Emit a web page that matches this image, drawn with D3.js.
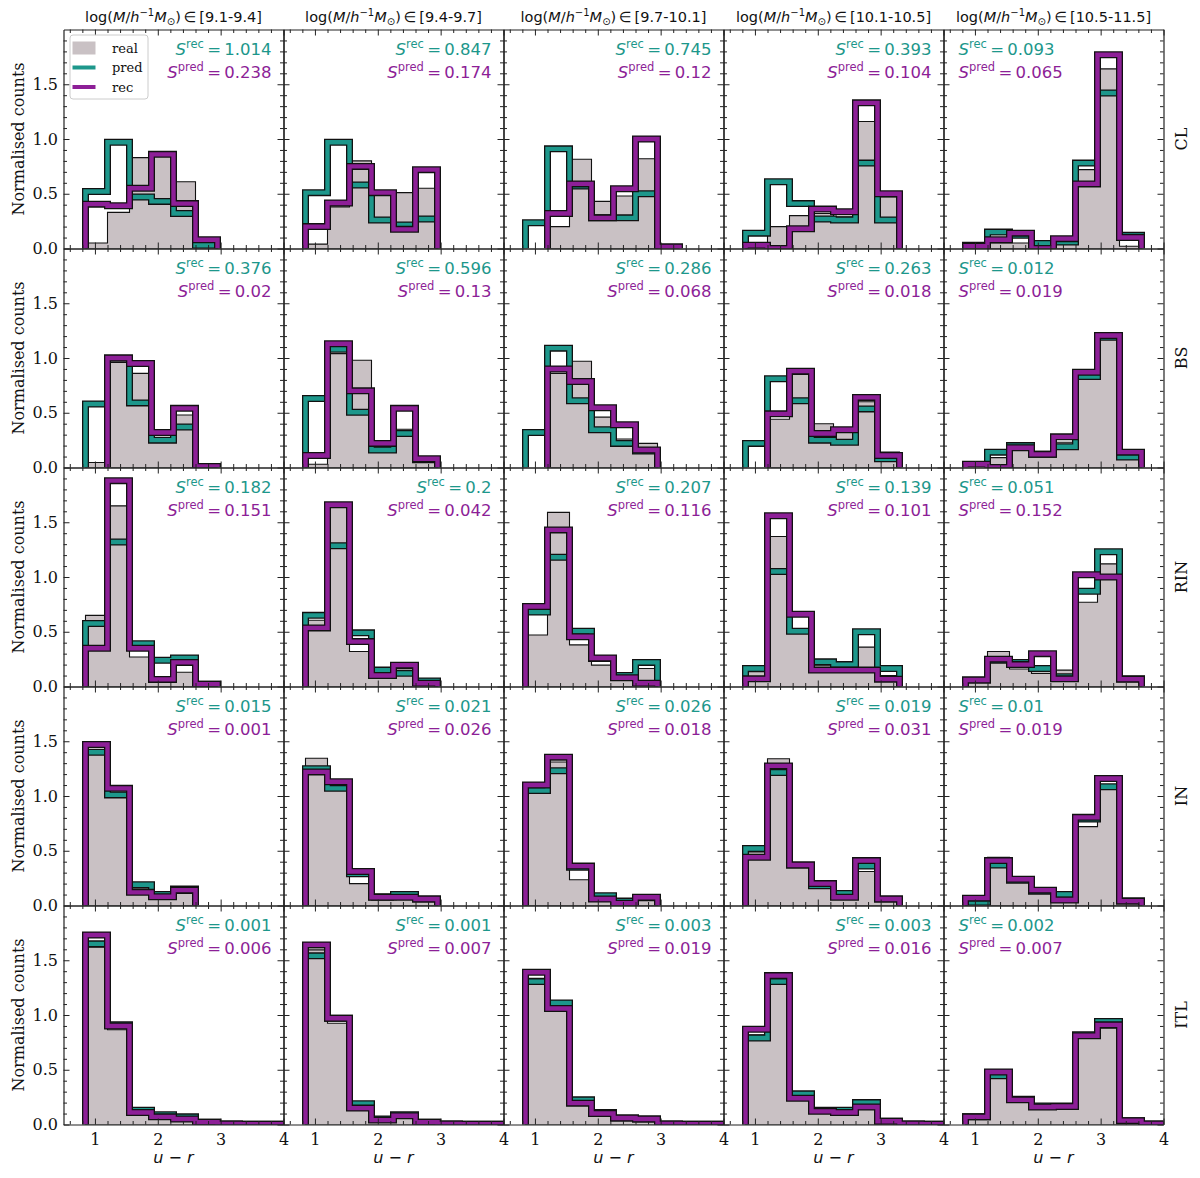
<!DOCTYPE html>
<html>
<head>
<meta charset="utf-8">
<script src="https://cdn.jsdelivr.net/npm/d3@7"></script>
<style>
  body { margin: 0; background: #fff; }
  svg { display: block; }
</style>
</head>
<body>
<div id="vis"></div>
<script>
// bin edges of u-r histograms
const EDGES = [0.85, 1.2, 1.55, 1.9, 2.25, 2.6, 2.95, 3.3, 3.65, 4.0];

const MASS_BINS = ["9.1-9.4", "9.4-9.7", "9.7-10.1", "10.1-10.5", "10.5-11.5"];
const ENVS = ["CL", "BS", "RIN", "IN", "ITL"];
const X_TICKS = [1, 2, 3, 4];
const Y_TICKS = [0, 0.5, 1.0, 1.5];

// S values, one row per environment, one entry per mass bin
const S_REC = [
  ["1.014", "0.847", "0.745", "0.393", "0.093"],
  ["0.376", "0.596", "0.286", "0.263", "0.012"],
  ["0.182", "0.2", "0.207", "0.139", "0.051"],
  ["0.015", "0.021", "0.026", "0.019", "0.01"],
  ["0.001", "0.001", "0.003", "0.003", "0.002"]
];
const S_PRED = [
  ["0.238", "0.174", "0.12", "0.104", "0.065"],
  ["0.02", "0.13", "0.068", "0.018", "0.019"],
  ["0.151", "0.042", "0.116", "0.101", "0.152"],
  ["0.001", "0.026", "0.018", "0.031", "0.019"],
  ["0.006", "0.007", "0.019", "0.016", "0.007"]
];

// normalised counts, one row per mass bin
const REAL_CL = [
  [0.05, 0.33, 0.83, 0.85, 0.61, 0.07, 0, 0, 0],
  [0.04, 0.38, 0.80, 0.49, 0.51, 0.55, 0, 0, 0],
  [0, 0.20, 0.815, 0.43, 0.48, 0.82, 0, 0, 0],
  [0.02, 0.20, 0.30, 0.32, 0.29, 1.16, 0.47, 0, 0],
  [0, 0.05, 0.05, 0.02, 0.05, 0.72, 1.64, 0.02, 0]
];
const PRED_CL = [
  [0.52, 0.97, 0.47, 0.43, 0.32, 0.03, 0, 0, 0],
  [0.51, 0.97, 0.58, 0.26, 0.215, 0.27, 0, 0, 0],
  [0.235, 0.91, 0.57, 0.28, 0.28, 0.50, 0, 0, 0],
  [0.14, 0.61, 0.41, 0.27, 0.26, 0.78, 0.26, 0, 0],
  [0.03, 0.15, 0.12, 0.045, 0.06, 0.78, 1.42, 0.12, 0]
];
const REC_CL = [
  [0.405, 0.39, 0.55, 0.86, 0.41, 0.08, 0, 0, 0],
  [0.20, 0.415, 0.75, 0.51, 0.175, 0.72, 0, 0, 0],
  [0, 0.32, 0.59, 0.28, 0.545, 1.00, 0.015, 0, 0],
  [0.03, 0, 0.18, 0.36, 0.335, 1.33, 0.50, 0, 0],
  [0.02, 0.08, 0.14, 0, 0.09, 0.59, 1.77, 0.10, 0]
];

const REAL_BS = [
  [0.045, 0.96, 0.86, 0.27, 0.48, 0, 0, 0, 0],
  [0.03, 1.04, 0.98, 0.19, 0.35, 0.08, 0, 0, 0],
  [0, 0.86, 0.97, 0.46, 0.26, 0.22, 0, 0, 0],
  [0, 0.44, 0.85, 0.40, 0.34, 0.60, 0.14, 0, 0],
  [0, 0.09, 0.17, 0.12, 0.23, 0.825, 1.175, 0.12, 0]
];
const PRED_BS = [
  [0.58, 1.00, 0.59, 0.25, 0.37, 0.01, 0, 0, 0],
  [0.63, 1.08, 0.505, 0.16, 0.31, 0.07, 0, 0, 0],
  [0.32, 1.09, 0.61, 0.345, 0.22, 0.15, 0, 0, 0],
  [0.22, 0.81, 0.61, 0.25, 0.23, 0.535, 0.08, 0, 0],
  [0, 0.14, 0.20, 0.12, 0.19, 0.83, 1.19, 0.095, 0]
];
const REC_BS = [
  [0, 1.00, 0.95, 0.32, 0.54, 0.01, 0, 0, 0],
  [0.11, 1.13, 0.70, 0.22, 0.54, 0.08, 0, 0, 0],
  [0, 0.90, 0.785, 0.545, 0.39, 0.16, 0, 0, 0],
  [0, 0.49, 0.88, 0.31, 0.345, 0.64, 0.11, 0, 0],
  [0.03, 0, 0.18, 0.12, 0.28, 0.87, 1.205, 0.14, 0]
];

const REAL_RIN = [
  [0.65, 1.65, 0.27, 0.06, 0.13, 0.02, 0, 0, 0],
  [0.605, 1.65, 0.32, 0.10, 0.165, 0.02, 0, 0, 0],
  [0.47, 1.59, 0.38, 0.195, 0.06, 0.165, 0, 0, 0],
  [0.135, 1.37, 0.50, 0.195, 0.17, 0.36, 0.10, 0, 0],
  [0.05, 0.32, 0.16, 0.12, 0.15, 0.77, 1.12, 0.06, 0]
];
const PRED_RIN = [
  [0.575, 1.32, 0.39, 0.24, 0.26, 0.02, 0, 0, 0],
  [0.65, 1.285, 0.49, 0.15, 0.12, 0.05, 0, 0, 0],
  [0.68, 1.18, 0.505, 0.255, 0.10, 0.22, 0, 0, 0],
  [0.165, 1.05, 0.505, 0.225, 0.20, 0.50, 0.165, 0, 0],
  [0.06, 0.24, 0.22, 0.165, 0.09, 0.87, 1.23, 0.07, 0]
];
const REC_RIN = [
  [0.35, 1.88, 0.35, 0.065, 0.22, 0.02, 0, 0, 0],
  [0.535, 1.66, 0.41, 0.10, 0.195, 0.03, 0, 0, 0],
  [0.73, 1.43, 0.455, 0.26, 0.08, 0.03, 0, 0, 0],
  [0.07, 1.56, 0.66, 0.15, 0.15, 0.15, 0.067, 0, 0],
  [0.06, 0.25, 0.20, 0.30, 0.07, 1.02, 1.00, 0.067, 0]
];

const REAL_IN = [
  [1.42, 1.03, 0.16, 0.07, 0.11, 0, 0, 0, 0],
  [1.345, 1.09, 0.20, 0.05, 0.06, 0.05, 0, 0, 0],
  [1.03, 1.31, 0.235, 0.05, 0.03, 0.07, 0, 0, 0],
  [0.49, 1.34, 0.36, 0.16, 0.09, 0.31, 0.05, 0, 0],
  [0.03, 0.44, 0.22, 0.12, 0.07, 0.72, 1.09, 0.03, 0]
];
const PRED_IN = [
  [1.40, 1.01, 0.19, 0.10, 0.15, 0, 0, 0, 0],
  [1.25, 1.07, 0.29, 0.08, 0.10, 0.06, 0, 0, 0],
  [1.05, 1.23, 0.35, 0.09, 0.04, 0.07, 0, 0, 0],
  [0.52, 1.215, 0.37, 0.18, 0.11, 0.36, 0.06, 0, 0],
  [0.03, 0.37, 0.23, 0.13, 0.10, 0.79, 1.085, 0.04, 0]
];
const REC_IN = [
  [1.47, 1.07, 0.12, 0.08, 0.14, 0, 0, 0, 0],
  [1.22, 1.13, 0.31, 0.076, 0.076, 0.06, 0, 0, 0],
  [1.10, 1.355, 0.36, 0.06, 0.02, 0.076, 0, 0, 0],
  [0.44, 1.275, 0.37, 0.20, 0.076, 0.41, 0.06, 0, 0],
  [0.067, 0.41, 0.24, 0.14, 0.05, 0.805, 1.16, 0.04, 0]
];

const REAL_ITL = [
  [1.62, 0.865, 0.12, 0.08, 0.06, 0.02, 0.005, 0.003, 0.002],
  [1.595, 0.925, 0.16, 0.05, 0.06, 0.02, 0.005, 0.003, 0.002],
  [1.335, 1.12, 0.21, 0.10, 0.06, 0.05, 0.005, 0.003, 0.002],
  [0.82, 1.29, 0.26, 0.12, 0.12, 0.17, 0.03, 0.005, 0.003],
  [0.06, 0.45, 0.22, 0.17, 0.17, 0.79, 0.88, 0.03, 0.005]
];
const PRED_ITL = [
  [1.65, 0.91, 0.13, 0.09, 0.07, 0.02, 0.005, 0.003, 0.002],
  [1.54, 0.97, 0.19, 0.05, 0.09, 0.02, 0.005, 0.003, 0.002],
  [1.305, 1.11, 0.225, 0.11, 0.06, 0.05, 0.005, 0.003, 0.002],
  [0.79, 1.305, 0.28, 0.13, 0.13, 0.20, 0.03, 0.005, 0.003],
  [0.07, 0.445, 0.23, 0.17, 0.17, 0.82, 0.94, 0.035, 0.005]
];
const REC_ITL = [
  [1.73, 0.90, 0.11, 0.07, 0.05, 0.02, 0.005, 0.003, 0.002],
  [1.64, 0.97, 0.15, 0.04, 0.08, 0.02, 0.005, 0.003, 0.002],
  [1.39, 1.06, 0.195, 0.10, 0.06, 0.05, 0.005, 0.003, 0.002],
  [0.87, 1.36, 0.24, 0.12, 0.11, 0.16, 0.03, 0.005, 0.003],
  [0.07, 0.48, 0.225, 0.16, 0.165, 0.81, 0.91, 0.035, 0.005]
];

const REAL = [REAL_CL, REAL_BS, REAL_RIN, REAL_IN, REAL_ITL];
const PRED = [PRED_CL, PRED_BS, PRED_RIN, PRED_IN, PRED_ITL];
const REC = [REC_CL, REC_BS, REC_RIN, REC_IN, REC_ITL];

// layout
const WIDTH = 1200, HEIGHT = 1178;
const LEFT = 63.5, TOP = 29.5;
const PANEL_W = 220, PANEL_H = 219;

const C_REAL = "#c9c1c4";
const C_PRED = "#1d978b";
const C_REC = "#8d1f97";
const SERIF = "DejaVu Serif";
const SANS = "DejaVu Sans";

const svg = d3.select("#vis").append("svg")
  .attr("width", WIDTH).attr("height", HEIGHT);

const X_SCALE = d3.scaleLinear().domain([0.5, 4]).range([0, PANEL_W]);
const Y_SCALE = d3.scaleLinear().domain([0, 2]).range([PANEL_H, 0]);

const xMinor = d3.range(0.6, 4.0, 0.2).filter(v => Math.abs(v - Math.round(v)) > 0.01);
const yMinor = d3.range(0.1, 2.0, 0.1).filter(v => Math.abs(v * 2 - Math.round(v * 2)) > 0.01);

const line = d3.line().x(d => X_SCALE(d[0])).y(d => Y_SCALE(d[1]));

function stepPoints(vals) {
  let i0 = vals.findIndex(v => v > 0);
  let i1 = vals.length - 1;
  while (i1 > 0 && vals[i1] <= 0) i1--;
  const pts = [[EDGES[i0], 0]];
  for (let i = i0; i <= i1; i++) {
    pts.push([EDGES[i], vals[i]], [EDGES[i + 1], vals[i]]);
  }
  pts.push([EDGES[i1 + 1], 0]);
  return pts;
}

function styleAxis(g, size) {
  g.attr("font-family", SERIF).attr("font-size", size + "px");
  g.selectAll(".tick line").attr("stroke", "#222").attr("stroke-width", 1);
  g.selectAll(".domain").attr("stroke", "#222").attr("stroke-width", 1.2);
  g.selectAll("text").attr("fill", "#111");
}

for (let r = 0; r < ENVS.length; r++) {
  for (let c = 0; c < MASS_BINS.length; c++) {
    const px = LEFT + c * PANEL_W, py = TOP + r * PANEL_H;
    const panel = svg.append("g").attr("transform", `translate(${px},${py})`);
    const clipId = `clip-${r}-${c}`;
    panel.append("clipPath").attr("id", clipId)
      .append("rect").attr("width", PANEL_W).attr("height", PANEL_H);

    const plot = panel.append("g").attr("clip-path", `url(#${clipId})`);

    // real: filled step
    plot.append("path")
      .attr("d", line(stepPoints(REAL[r][c])) + "Z")
      .attr("fill", C_REAL)
      .attr("stroke", "#111")
      .attr("stroke-width", 1.1)
      .attr("stroke-linejoin", "miter");

    // pred and rec: thick lines with black edge
    [[PRED[r][c], C_PRED], [REC[r][c], C_REC]].forEach(([vals, col]) => {
      const d = line(stepPoints(vals));
      plot.append("path").attr("d", d).attr("fill", "none")
        .attr("stroke", "#111").attr("stroke-width", 7)
        .attr("stroke-linejoin", "miter");
      plot.append("path").attr("d", d).attr("fill", "none")
        .attr("stroke", col).attr("stroke-width", 4.4)
        .attr("stroke-linejoin", "miter");
    });

    // axes, ticks pointing in on all sides
    const gb = panel.append("g").attr("transform", `translate(0,${PANEL_H})`)
      .call(d3.axisBottom(X_SCALE).tickValues(X_TICKS).tickSize(-6).tickSizeOuter(0).tickPadding(9)
        .tickFormat(r === ENVS.length - 1 ? d3.format("d") : ""));
    styleAxis(gb, 16);
    const gbm = panel.append("g").attr("transform", `translate(0,${PANEL_H})`)
      .call(d3.axisBottom(X_SCALE).tickValues(xMinor).tickSize(-3.5).tickFormat(""));
    styleAxis(gbm, 10); gbm.select(".domain").remove();

    const gt = panel.append("g")
      .call(d3.axisTop(X_SCALE).tickValues(X_TICKS).tickSize(-6).tickSizeOuter(0).tickFormat(""));
    styleAxis(gt, 10);
    const gtm = panel.append("g")
      .call(d3.axisTop(X_SCALE).tickValues(xMinor).tickSize(-3.5).tickFormat(""));
    styleAxis(gtm, 10); gtm.select(".domain").remove();

    const gl = panel.append("g")
      .call(d3.axisLeft(Y_SCALE).tickValues(Y_TICKS).tickSize(-6).tickSizeOuter(0).tickPadding(5.5)
        .tickFormat(c === 0 ? d3.format(".1f") : ""));
    styleAxis(gl, 16);
    const glm = panel.append("g")
      .call(d3.axisLeft(Y_SCALE).tickValues(yMinor).tickSize(-3.5).tickFormat(""));
    styleAxis(glm, 10); glm.select(".domain").remove();

    const gr = panel.append("g").attr("transform", `translate(${PANEL_W},0)`)
      .call(d3.axisRight(Y_SCALE).tickValues(Y_TICKS).tickSize(-6).tickSizeOuter(0).tickFormat(""));
    styleAxis(gr, 10);
    const grm = panel.append("g").attr("transform", `translate(${PANEL_W},0)`)
      .call(d3.axisRight(Y_SCALE).tickValues(yMinor).tickSize(-3.5).tickFormat(""));
    styleAxis(grm, 10); grm.select(".domain").remove();

    // S annotations
    const leftAligned = c === MASS_BINS.length - 1;
    const ax = leftAligned ? 15 : PANEL_W - 12;
    [[S_REC[r][c], "rec", C_PRED, 25.5], [S_PRED[r][c], "pred", C_REC, 48.5]].forEach(([val, sup, col, yy]) => {
      const t = panel.append("text")
        .attr("x", ax).attr("y", yy)
        .attr("text-anchor", leftAligned ? "start" : "end")
        .attr("font-family", SANS).attr("font-size", "16.5px")
        .attr("fill", col);
      t.append("tspan").attr("font-style", "italic").text("S");
      t.append("tspan").attr("font-size", "11.5px").attr("dy", -7).text(sup);
      t.append("tspan").attr("dy", 7).text("\u2009=\u2009" + val);
    });

    // legend in the first panel
    if (r === 0 && c === 0) {
      const lg = panel.append("g").attr("transform", "translate(6.5,5.5)");
      lg.append("rect").attr("width", 78).attr("height", 64).attr("rx", 3)
        .attr("fill", "#fff").attr("fill-opacity", 0.85)
        .attr("stroke", "#cccccc").attr("stroke-width", 1);
      const items = [["real", C_REAL], ["pred", C_PRED], ["rec", C_REC]];
      items.forEach(([name, col], i) => {
        const yy = 13 + i * 19.5;
        if (i === 0) {
          lg.append("rect").attr("x", 2.5).attr("y", yy - 6.5).attr("width", 23).attr("height", 13)
            .attr("fill", col);
        } else {
          lg.append("line").attr("x1", 2.5).attr("x2", 25.5).attr("y1", yy).attr("y2", yy)
            .attr("stroke", col).attr("stroke-width", 4);
        }
        lg.append("text").attr("x", 42).attr("y", yy).attr("dy", "0.35em")
          .attr("font-family", SERIF).attr("font-size", "13px").attr("fill", "#111")
          .text(name);
      });
    }
  }
}

// column titles
MASS_BINS.forEach((m, c) => {
  const t = svg.append("text")
    .attr("x", LEFT + c * PANEL_W + PANEL_W / 2).attr("y", 22)
    .attr("text-anchor", "middle")
    .attr("font-family", SANS).attr("font-size", "14.5px").attr("fill", "#111");
  t.append("tspan").text("log(");
  t.append("tspan").attr("font-style", "italic").text("M");
  t.append("tspan").text("/");
  t.append("tspan").attr("font-style", "italic").text("h");
  t.append("tspan").attr("font-size", "10px").attr("dy", -6).text("\u22121");
  t.append("tspan").attr("font-style", "italic").attr("dy", 6).text("M");
  t.append("tspan").attr("font-size", "10px").attr("dy", 3).text("\u2299");
  t.append("tspan").attr("dy", -3).text(")\u2009\u2208\u2009[" + m + "]");
});

// x labels
MASS_BINS.forEach((m, c) => {
  const t = svg.append("text")
    .attr("x", LEFT + c * PANEL_W + PANEL_W / 2).attr("y", 1163)
    .attr("text-anchor", "middle")
    .attr("font-family", SANS).attr("font-size", "16px").attr("fill", "#111");
  t.append("tspan").attr("font-style", "italic").text("u");
  t.append("tspan").text(" \u2212 ");
  t.append("tspan").attr("font-style", "italic").text("r");
});

// y labels and environment labels
ENVS.forEach((e, r) => {
  const cy = TOP + r * PANEL_H + PANEL_H / 2;
  svg.append("text")
    .attr("transform", `translate(18.5,${cy}) rotate(-90)`)
    .attr("text-anchor", "middle").attr("dy", "0.35em")
    .attr("font-family", SERIF).attr("font-size", "16px").attr("fill", "#111")
    .text("Normalised counts");
  svg.append("text")
    .attr("transform", `translate(1181,${cy}) rotate(-90)`)
    .attr("text-anchor", "middle").attr("dy", "0.35em")
    .attr("font-family", SERIF).attr("font-size", "16px").attr("fill", "#111")
    .text(e);
});
</script>
</body>
</html>
